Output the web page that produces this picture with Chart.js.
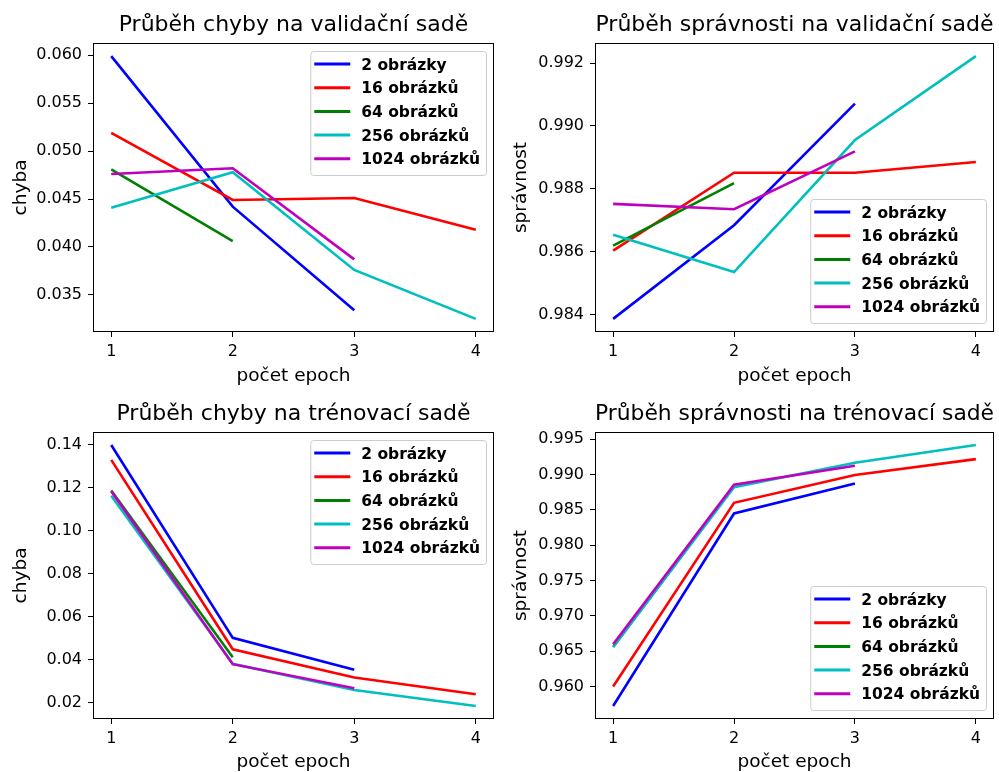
<!DOCTYPE html>
<html>
<head>
<meta charset="utf-8">
<script src="https://cdn.jsdelivr.net/npm/chart.js@4.4.0/dist/chart.umd.min.js"></script>
<style>
  body { margin: 0; background: #fff; }
  #wrap { position: relative; width: 999px; height: 772px; overflow: hidden; }
  canvas { position: absolute; }
</style>
</head>
<body>
<div id="wrap">
  <canvas id="valLoss" width="500" height="386" style="left:0;top:0"></canvas>
  <canvas id="valAcc" width="499" height="386" style="left:500px;top:0"></canvas>
  <canvas id="trainLoss" width="500" height="386" style="left:0;top:386px"></canvas>
  <canvas id="trainAcc" width="499" height="386" style="left:500px;top:386px"></canvas>
</div>
<script>
const epochs = [1, 2, 3, 4];
const seriesLabels = ["2 obrázky", "16 obrázků", "64 obrázků", "256 obrázků", "1024 obrázků"];
const seriesColors = ["#0000ff", "#ff0000", "#008000", "#00bfbf", "#bf00bf"];

// chyba na validační sadě
const valLoss2 = [0.0599, 0.0442, 0.0334];
const valLoss16 = [0.0519, 0.0449, 0.0451, 0.0418];
const valLoss64 = [0.0481, 0.0406];
const valLoss256 = [0.0441, 0.0478, 0.0376, 0.0325];
const valLoss1024 = [0.0476, 0.0482, 0.0387];
const valLossTicks = [0.035, 0.04, 0.045, 0.05, 0.055, 0.06];

// správnost na validační sadě
const valAcc2 = [0.98386, 0.98684, 0.99071];
const valAcc16 = [0.98603, 0.98851, 0.98851, 0.98885];
const valAcc64 = [0.98619, 0.98818];
const valAcc256 = [0.98654, 0.98535, 0.98955, 0.99222];
const valAcc1024 = [0.98752, 0.98735, 0.98919];
const valAccTicks = [0.984, 0.986, 0.988, 0.99, 0.992];

// chyba na trénovací sadě
const trainLoss2 = [0.1397, 0.0502, 0.0354];
const trainLoss16 = [0.1328, 0.0449, 0.0318, 0.024];
const trainLoss64 = [0.1186, 0.0412];
const trainLoss256 = [0.1162, 0.0382, 0.026, 0.0186];
const trainLoss1024 = [0.1183, 0.038, 0.0268];
const trainLossTicks = [0.02, 0.04, 0.06, 0.08, 0.1, 0.12, 0.14];

// správnost na trénovací sadě
const trainAcc2 = [0.95728, 0.98448, 0.98873];
const trainAcc16 = [0.96004, 0.98599, 0.98991, 0.99216];
const trainAcc64 = [0.96561, 0.98836];
const trainAcc256 = [0.9656, 0.9882, 0.99164, 0.99415];
const trainAcc1024 = [0.96599, 0.98855, 0.99122];
const trainAccTicks = [0.96, 0.965, 0.97, 0.975, 0.98, 0.985, 0.99, 0.995];

const FONT = "'DejaVu Sans', sans-serif";

// ramecek kolem grafu + legenda uvnitr plochy
const frameLegend = {
  id: "frameLegend",
  afterDatasetsDraw(chart, args, opts) {
    const { ctx, chartArea: a } = chart;
    ctx.save();
    ctx.strokeStyle = "#000";
    ctx.lineWidth = 1;
    ctx.strokeRect(a.left + 0.5, a.top + 0.5, a.right - a.left - 1, a.bottom - a.top - 1);

    ctx.font = "bold 15.5px " + FONT;
    const sets = chart.data.datasets;
    const textW = Math.max(...sets.map((d) => ctx.measureText(d.label).width));
    const w = 51 + textW + 6;
    const h = 124;
    const right = a.right - 8;
    const top = opts.corner === "top" ? a.top + 8 : a.bottom - 9 - h;
    const left = right - w;
    ctx.beginPath();
    ctx.roundRect(left + 0.5, top + 0.5, w, h, 3);
    ctx.fillStyle = "rgba(255,255,255,0.8)";
    ctx.fill();
    ctx.strokeStyle = "#cccccc";
    ctx.stroke();
    sets.forEach((d, i) => {
      const y = top + 13 + i * 23.7;
      ctx.strokeStyle = d.borderColor;
      ctx.lineWidth = 3;
      ctx.beginPath();
      ctx.moveTo(left + 4, y);
      ctx.lineTo(left + 40, y);
      ctx.stroke();
      ctx.fillStyle = "#000";
      ctx.textBaseline = "alphabetic";
      ctx.fillText(d.label, left + 51, y + 5.5);
    });
    ctx.restore();
  },
};

const makeChart = (id, title, yTitle, series, yTicks, decimals, corner, area) => {
  const canvas = document.getElementById(id);
  const all = series.flat();
  const lo = Math.min(...all);
  const hi = Math.max(...all);
  const pad = (hi - lo) * 0.05;

  const datasets = series.map((values, index) => ({
    label: seriesLabels[index],
    data: values.map((v, i) => ({ x: epochs[i], y: v })),
    borderColor: seriesColors[index],
    backgroundColor: seriesColors[index],
    borderWidth: 2.6,
    pointRadius: 0,
    tension: 0,
    fill: false,
    order: series.length - index,
  }));

  return new Chart(canvas, {
    type: "line",
    data: { datasets },
    plugins: [frameLegend],
    options: {
      responsive: false,
      animation: false,
      events: [],
      layout: { padding: { left: 0, right: canvas.width - area.right, top: 0, bottom: 0 } },
      plugins: {
        legend: { display: false },
        tooltip: { enabled: false },
        title: {
          display: true,
          text: title,
          fullSize: false,
          color: "#000",
          font: { family: FONT, size: 22, weight: "normal", lineHeight: 1.2 },
          padding: { top: area.top - 5 - 26.4, bottom: 5 },
        },
        frameLegend: { corner },
      },
      scales: {
        x: {
          type: "linear",
          min: 0.85,
          max: 4.15,
          afterBuildTicks: (scale) => {
            scale.ticks = epochs.map((v) => ({ value: v }));
          },
          afterFit: (scale) => {
            scale.height = canvas.height - area.bottom;
          },
          ticks: {
            color: "#000",
            padding: 5,
            font: { family: FONT, size: 16 },
            callback: (v) => String(v),
          },
          grid: { display: true, drawOnChartArea: false, drawTicks: true, tickLength: 5, color: "#000" },
          border: { display: false },
          title: {
            display: true,
            text: "počet epoch",
            color: "#000",
            font: { family: FONT, size: 18.5, lineHeight: 1 },
            padding: { top: 0, bottom: 1 },
          },
        },
        y: {
          type: "linear",
          min: lo - pad,
          max: hi + pad,
          afterBuildTicks: (scale) => {
            scale.ticks = yTicks.map((v) => ({ value: v }));
          },
          afterFit: (scale) => {
            scale.width = area.left;
          },
          ticks: {
            color: "#000",
            padding: 6,
            font: { family: FONT, size: 16 },
            callback: (v) => Number(v).toFixed(decimals),
          },
          grid: { display: true, drawOnChartArea: false, drawTicks: true, tickLength: 5, color: "#000" },
          border: { display: false },
          title: {
            display: true,
            text: yTitle,
            color: "#000",
            font: { family: FONT, size: 18.5, lineHeight: 1.2 },
            padding: { top: 10, bottom: 0 },
          },
        },
      },
    },
  });
};

makeChart("valLoss", "Průběh chyby na validační sadě", "chyba",
  [valLoss2, valLoss16, valLoss64, valLoss256, valLoss1024], valLossTicks, 3, "top",
  { left: 93, right: 494, top: 43, bottom: 332 });

makeChart("valAcc", "Průběh správnosti na validační sadě", "správnost",
  [valAcc2, valAcc16, valAcc64, valAcc256, valAcc1024], valAccTicks, 3, "bottom",
  { left: 95, right: 494, top: 43, bottom: 332 });

makeChart("trainLoss", "Průběh chyby na trénovací sadě", "chyba",
  [trainLoss2, trainLoss16, trainLoss64, trainLoss256, trainLoss1024], trainLossTicks, 2, "top",
  { left: 93, right: 494, top: 46, bottom: 333 });

makeChart("trainAcc", "Průběh správnosti na trénovací sadě", "správnost",
  [trainAcc2, trainAcc16, trainAcc64, trainAcc256, trainAcc1024], trainAccTicks, 3, "bottom",
  { left: 95, right: 494, top: 46, bottom: 333 });
</script>
</body>
</html>
